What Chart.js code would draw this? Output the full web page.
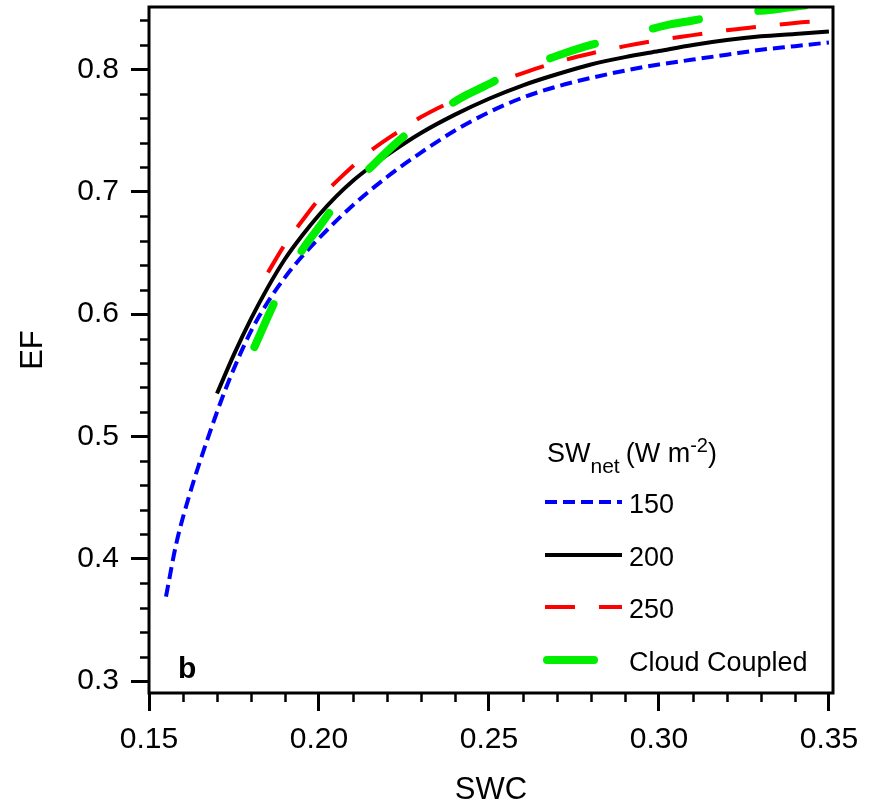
<!DOCTYPE html>
<html>
<head>
<meta charset="utf-8">
<script src="https://cdn.jsdelivr.net/npm/chart.js@4.4.1/dist/chart.umd.min.js"></script>
<style>
  html, body { margin: 0; padding: 0; background: #fff; }
</style>
</head>
<body>
<canvas id="efChart" width="876" height="803"></canvas>
<script>
// values
const swc150 = [0.155, 0.158, 0.162, 0.1675, 0.173, 0.180, 0.185, 0.190, 0.195, 0.200, 0.210, 0.220, 0.230, 0.240, 0.250, 0.260, 0.270, 0.280, 0.290, 0.300, 0.310, 0.320, 0.330, 0.340, 0.350];
const ef150  = [0.369, 0.412, 0.453, 0.500, 0.542, 0.586, 0.610, 0.630, 0.647, 0.662, 0.689, 0.712, 0.732, 0.750, 0.765, 0.777, 0.786, 0.793, 0.799, 0.804, 0.808, 0.812, 0.816, 0.819, 0.822];

const swc200 = [0.170, 0.175, 0.180, 0.185, 0.190, 0.195, 0.200, 0.205, 0.210, 0.215, 0.220, 0.230, 0.240, 0.250, 0.260, 0.270, 0.280, 0.290, 0.300, 0.310, 0.320, 0.330, 0.340, 0.350];
const ef200  = [0.535, 0.567, 0.596, 0.622, 0.645, 0.664, 0.681, 0.696, 0.709, 0.720, 0.730, 0.748, 0.763, 0.776, 0.787, 0.796, 0.804, 0.810, 0.815, 0.820, 0.824, 0.827, 0.829, 0.831];

const swc250 = [0.185, 0.190, 0.195, 0.200, 0.205, 0.210, 0.215, 0.220, 0.225, 0.230, 0.240, 0.250, 0.260, 0.270, 0.280, 0.290, 0.300, 0.310, 0.320, 0.330, 0.340, 0.350];
const ef250  = [0.634, 0.657, 0.676, 0.694, 0.708, 0.721, 0.733, 0.743, 0.752, 0.761, 0.775, 0.787, 0.797, 0.806, 0.813, 0.819, 0.824, 0.828, 0.832, 0.835, 0.838, 0.840];

const swcCloud = [0.181, 0.185, 0.188, 0.195, 0.200, 0.205, 0.210, 0.216, 0.222, 0.228, 0.235, 0.242, 0.250, 0.256, 0.265, 0.272, 0.280, 0.287, 0.295, 0.302, 0.310, 0.318, 0.326, 0.334, 0.342, 0.350];
const efCloud  = [0.573, 0.598, 0.616, 0.652, 0.671, 0.690, 0.706, 0.722, 0.738, 0.752, 0.765, 0.777, 0.788, 0.797, 0.806, 0.813, 0.820, 0.825, 0.831, 0.836, 0.840, 0.844, 0.847, 0.849, 0.852, 0.854];

const seriesLabels = ['150', '200', '250', 'Cloud Coupled'];
const xTicks = [0.15, 0.20, 0.25, 0.30, 0.35];
const yTicks = [0.3, 0.4, 0.5, 0.6, 0.7, 0.8];

const FONT = "'Liberation Sans', Arial, sans-serif";

function pts(xs, ys) {
  return xs.map((x, i) => ({ x: x, y: ys[i] }));
}

const styles = [
  { color: '#0000ff', width: 4, dash: [12, 6], cap: 'butt' },
  { color: '#000000', width: 4, dash: [], cap: 'butt' },
  { color: '#ff0000', width: 4, dash: [30, 24], cap: 'butt' },
  { color: '#00ee00', width: 8, dash: [47, 60], cap: 'round' }
];

function makeSet(i, data, order) {
  const s = styles[i];
  return {
    label: seriesLabels[i],
    data: data,
    borderColor: s.color,
    borderWidth: s.width,
    borderDash: s.dash,
    borderCapStyle: s.cap,
    pointRadius: 0,
    fill: false,
    cubicInterpolationMode: 'monotone',
    order: order
  };
}

// frame, minor ticks, legend block and panel letter
const extras = {
  id: 'extras',
  afterDraw(chart) {
    const { ctx, chartArea: a, scales: { x, y } } = chart;
    ctx.save();
    ctx.strokeStyle = '#000';
    ctx.lineWidth = 3;
    ctx.strokeRect(a.left, a.top, a.right - a.left, a.bottom - a.top);

    ctx.lineWidth = 2.5;
    ctx.beginPath();
    for (let i = 16; i <= 42; i++) {
      if (i % 5 === 0) continue;
      const py = Math.round(y.getPixelForValue(i / 50)) + 0.5;
      ctx.moveTo(a.left - 9, py);
      ctx.lineTo(a.left, py);
    }
    for (let i = 16; i <= 34; i++) {
      if (i % 5 === 0) continue;
      const px = Math.round(x.getPixelForValue(i / 100)) + 0.5;
      ctx.moveTo(px, a.bottom);
      ctx.lineTo(px, a.bottom + 9);
    }
    ctx.stroke();

    // legend title: SW_net (W m^-2)
    ctx.fillStyle = '#000';
    ctx.textBaseline = 'alphabetic';
    ctx.textAlign = 'left';
    let tx = 547;
    ctx.font = '27px ' + FONT;
    ctx.fillText('SW', tx, 462);
    tx += ctx.measureText('SW').width;
    ctx.font = '21px ' + FONT;
    ctx.fillText('net', tx, 473);
    tx += ctx.measureText('net').width + 6;
    ctx.font = '27px ' + FONT;
    ctx.fillText('(W m', tx, 462);
    tx += ctx.measureText('(W m').width;
    ctx.font = '20px ' + FONT;
    ctx.fillText('-2', tx, 452);
    tx += ctx.measureText('-2').width;
    ctx.font = '27px ' + FONT;
    ctx.fillText(')', tx, 462);

    const rows = [502, 555, 607, 660];
    rows.forEach((ry, i) => {
      const s = styles[i];
      ctx.save();
      ctx.strokeStyle = s.color;
      ctx.lineWidth = s.width;
      ctx.lineCap = s.cap;
      ctx.setLineDash(s.dash);
      ctx.beginPath();
      ctx.moveTo(i === 3 ? 547 : 545, ry);
      ctx.lineTo(i === 3 ? 600 : 622, ry);
      ctx.stroke();
      ctx.restore();
      ctx.font = '27px ' + FONT;
      ctx.fillText(seriesLabels[i], 629, ry + 11);
    });

    ctx.font = 'bold 30px ' + FONT;
    ctx.fillText('b', 178, 678);
    ctx.restore();
  }
};

new Chart(document.getElementById('efChart'), {
  type: 'line',
  data: {
    datasets: [
      makeSet(0, pts(swc150, ef150), 3),
      makeSet(1, pts(swc200, ef200), 2),
      makeSet(2, pts(swc250, ef250), 1),
      makeSet(3, pts(swcCloud, efCloud), 0)
    ]
  },
  options: {
    responsive: false,
    animation: false,
    layout: { padding: { top: 7, right: 43, bottom: 0, left: 0 } },
    plugins: { legend: { display: false }, tooltip: { enabled: false } },
    scales: {
      x: {
        type: 'linear',
        min: 0.15,
        max: 0.3512,
        afterBuildTicks: s => { s.ticks = xTicks.map(v => ({ value: v })); },
        afterFit: s => { s.height = 110; s.paddingLeft = 0; s.paddingRight = 0; },
        border: { display: false },
        grid: { drawOnChartArea: false, tickLength: 18, tickWidth: 3, tickColor: '#000' },
        ticks: {
          color: '#000', autoSkip: false, maxRotation: 0, padding: 11,
          font: { family: FONT, size: 30 },
          callback: v => v.toFixed(2)
        },
        title: {
          display: true, text: 'SWC', color: '#000',
          font: { family: FONT, size: 31 }, padding: { top: 0, bottom: -6 }
        }
      },
      y: {
        type: 'linear',
        min: 0.2902,
        max: 0.851,
        afterBuildTicks: s => { s.ticks = yTicks.map(v => ({ value: v })); },
        afterFit: s => { s.width = 149; s.paddingTop = 0; s.paddingBottom = 0; },
        border: { display: false },
        grid: { drawOnChartArea: false, tickLength: 18, tickWidth: 3, tickColor: '#000' },
        ticks: {
          color: '#000', autoSkip: false, padding: 12,
          font: { family: FONT, size: 30 },
          callback: v => v.toFixed(1)
        },
        title: {
          display: true, text: 'EF', color: '#000',
          font: { family: FONT, size: 31 }, padding: { top: 15, bottom: 0 }
        }
      }
    }
  },
  plugins: [extras]
});
</script>
</body>
</html>
